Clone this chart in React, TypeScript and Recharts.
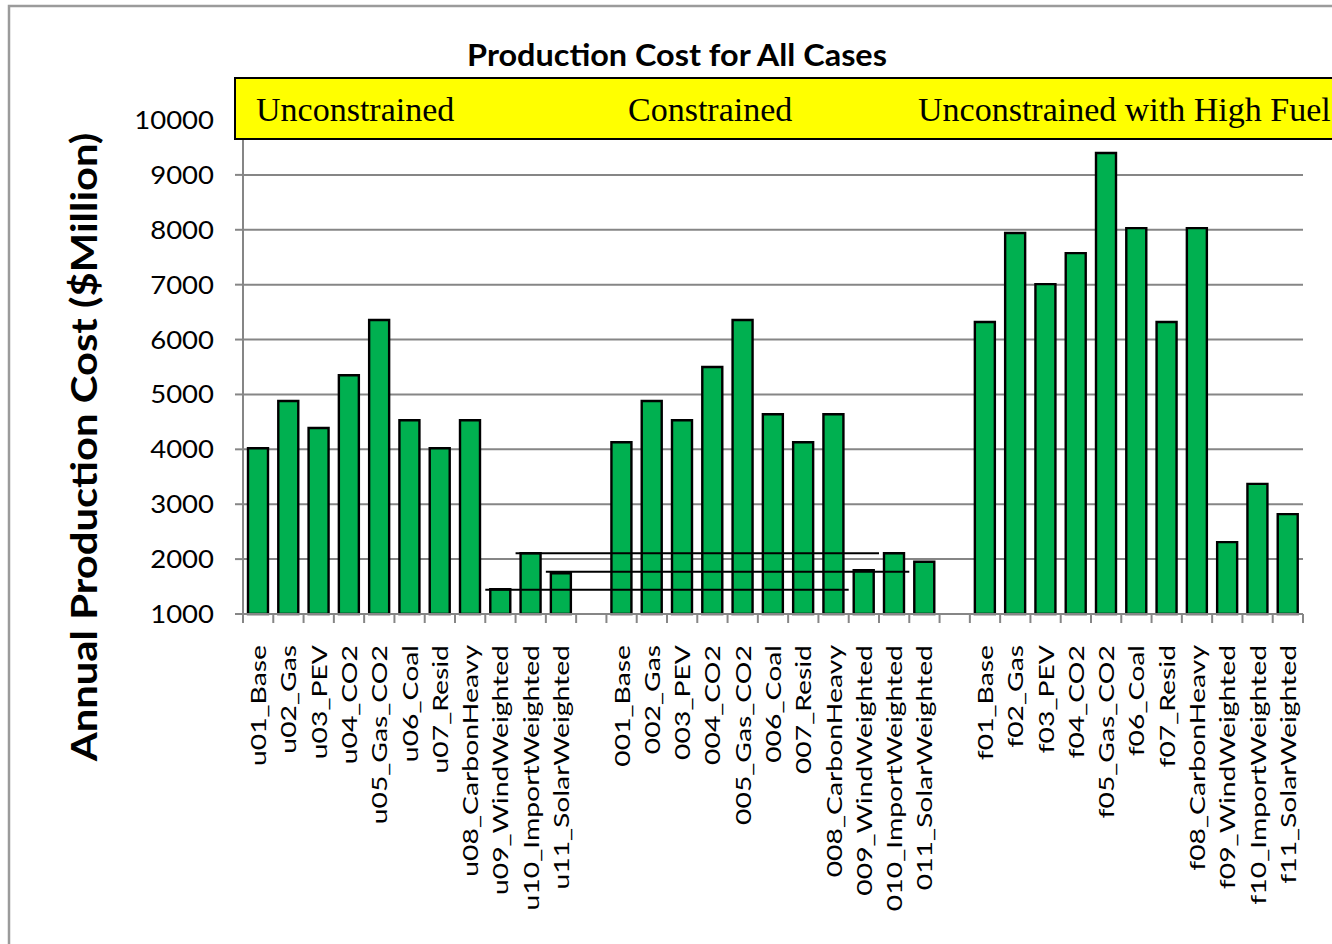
import React from 'react';
import { BarChart, Bar, XAxis, YAxis, CartesianGrid, ReferenceLine } from 'recharts';

// Case names per scenario group
const unconstrainedCases = [
  'u01_Base', 'u02_Gas', 'u03_PEV', 'u04_CO2', 'u05_Gas_CO2', 'u06_Coal',
  'u07_Resid', 'u08_CarbonHeavy', 'u09_WindWeighted', 'u10_ImportWeighted', 'u11_SolarWeighted',
];
const constrainedCases = [
  '001_Base', '002_Gas', '003_PEV', '004_CO2', '005_Gas_CO2', '006_Coal',
  '007_Resid', '008_CarbonHeavy', '009_WindWeighted', '010_ImportWeighted', '011_SolarWeighted',
];
const highFuelCases = [
  'f01_Base', 'f02_Gas', 'f03_PEV', 'f04_CO2', 'f05_Gas_CO2', 'f06_Coal',
  'f07_Resid', 'f08_CarbonHeavy', 'f09_WindWeighted', 'f10_ImportWeighted', 'f11_SolarWeighted',
];

// Annual production cost, $Million
const unconstrainedCost = [4020, 4880, 4390, 5350, 6355, 4530, 4020, 4530, 1450, 2107, 1742];
const constrainedCost = [4130, 4880, 4530, 5500, 6355, 4640, 4130, 4640, 1800, 2107, 1953];
const highFuelCost = [6320, 7940, 7010, 7575, 9400, 8030, 6320, 8030, 2310, 3370, 2820];

const yTicks = [1000, 2000, 3000, 4000, 5000, 6000, 7000, 8000, 9000, 10000];
const groupTitles = ['Unconstrained', 'Constrained', 'Unconstrained with High Fuel'];

// Horizontal connectors carrying the unconstrained renewable cases across to the constrained ones
const connectorFrom = ['u10_ImportWeighted', 'u11_SolarWeighted', 'u09_WindWeighted'];
const connectorTo = ['010_ImportWeighted', '011_SolarWeighted', '009_WindWeighted'];
const connectorLevel = [2107, 1770, 1440];

type Row = { key: string; label: string; cost: number | null };

const toRows = (names: string[], costs: number[]): Row[] =>
  names.map((n, i) => ({ key: n, label: n, cost: costs[i] }));

const rows: Row[] = [
  ...toRows(unconstrainedCases, unconstrainedCost),
  { key: 'gap-1', label: '', cost: null },
  ...toRows(constrainedCases, constrainedCost),
  { key: 'gap-2', label: '', cost: null },
  ...toRows(highFuelCases, highFuelCost),
];
const labelOf = new Map(rows.map((r) => [r.key, r.label]));

const W = 1332;
const H = 944;
const MARGIN = { top: 120, right: 29, bottom: 0, left: 0 };
const Y_AXIS_W = 243;
const X_AXIS_H = 330;
const BAND = (W - MARGIN.left - MARGIN.right - Y_AXIS_W) / rows.length;

const GREEN = '#00B050';
const GREY = '#868686';

const CaseTick = (props: any) => {
  const { x, y, payload, index } = props;
  const label = labelOf.get(payload.value) ?? '';
  const half = BAND / 2;
  return (
    <g>
      <line x1={x - half} y1={y} x2={x - half} y2={y + 9} stroke={GREY} strokeWidth={2} />
      {index === rows.length - 1 && (
        <line x1={x + half} y1={y} x2={x + half} y2={y + 9} stroke={GREY} strokeWidth={2} />
      )}
      {label && (
        <text
          transform={`translate(${x + 8},${y + 31}) rotate(-90) scale(1.35,1)`}
          textAnchor="end"
          fontFamily="Lato"
          fontSize={21}
          fill="#000"
        >
          {label}
        </text>
      )}
    </g>
  );
};

const CostTick = (props: any) => {
  const { x, y, payload } = props;
  return (
    <text
      transform={`translate(${x},${y}) scale(1.1,1)`}
      textAnchor="end"
      dy="0.36em"
      fontFamily="Lato"
      fontSize={25}
      fill="#000"
    >
      {payload.value}
    </text>
  );
};

export default function App() {
  return (
    <div style={{ position: 'absolute', left: 0, top: 0, width: W, height: H, overflow: 'hidden', background: '#fff' }}>
      <BarChart width={W} height={H} data={rows} margin={MARGIN} barSize={20}>
        <CartesianGrid vertical={false} stroke={GREY} strokeWidth={2} />
        <XAxis
          dataKey="key"
          interval={0}
          height={X_AXIS_H}
          tickLine={false}
          tickSize={0}
          tickMargin={0}
          axisLine={{ stroke: GREY, strokeWidth: 2 }}
          tick={<CaseTick />}
        />
        <YAxis
          width={Y_AXIS_W}
          domain={[1000, 10000]}
          ticks={yTicks}
          interval={0}
          tickSize={8}
          tickMargin={21}
          tickLine={{ stroke: GREY, strokeWidth: 2 }}
          axisLine={{ stroke: GREY, strokeWidth: 2 }}
          tick={<CostTick />}
        />
        <Bar dataKey="cost" fill={GREEN} stroke="#000" strokeWidth={2.4} isAnimationActive={false} />
        {connectorLevel.map((level, i) => (
          <ReferenceLine
            key={connectorFrom[i]}
            segment={[
              { x: connectorFrom[i], y: level },
              { x: connectorTo[i], y: level },
            ]}
            position="start"
            stroke="#000"
            strokeWidth={2}
          />
        ))}
      </BarChart>

      <svg
        width={W}
        height={H}
        style={{ position: 'absolute', left: 0, top: 0, pointerEvents: 'none' }}
      >
        <rect x={9} y={6} width={W + 100} height={H + 100} fill="none" stroke="#9b9b9b" strokeWidth={2.5} />
        <text
          transform="translate(677,66) scale(1.08,1)"
          textAnchor="middle"
          fontFamily="Lato"
          fontWeight={700}
          fontSize={30}
        >
          Production Cost for All Cases
        </text>
        <text
          transform="translate(97,447) rotate(-90) scale(1.13,1)"
          textAnchor="middle"
          fontFamily="Lato"
          fontWeight={700}
          fontSize={37}
        >
          Annual Production Cost ($Million)
        </text>
        <rect x={235} y={78} width={W} height={61} fill="#FFFF00" stroke="#000" strokeWidth={2} />
        {groupTitles.map((t, i) => (
          <text
            key={t}
            x={[256, 628, 918][i]}
            y={121}
            fontFamily="'Liberation Serif', 'Times New Roman', serif"
            fontSize={34}
          >
            {t}
          </text>
        ))}
      </svg>
    </div>
  );
}
